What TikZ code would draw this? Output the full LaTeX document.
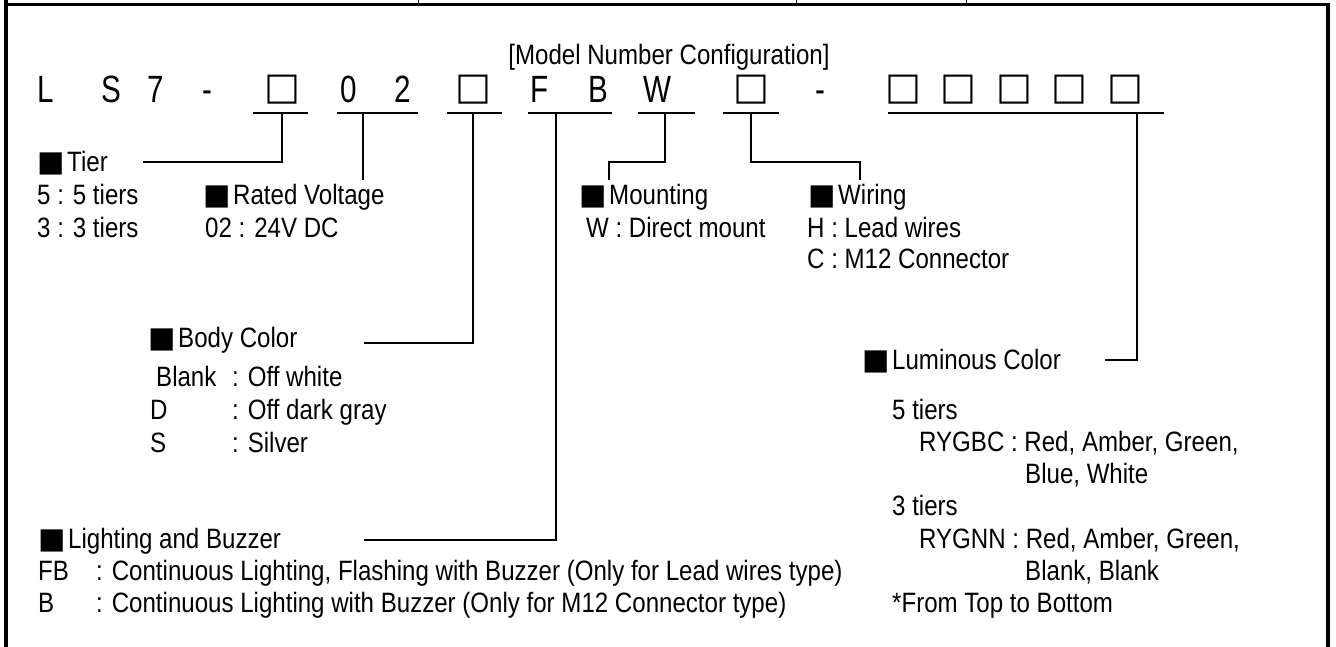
\documentclass[tikz,border=0pt]{standalone}
\usepackage{fontspec}
\setmainfont{Liberation Sans}[FakeStretch=0.86]
\newfontfamily\bigfont{Liberation Sans}[FakeStretch=0.78]
\newfontfamily\symfont{DejaVu Sans}
\begin{document}
\begin{tikzpicture}[x=1pt,y=-1pt,
  txt/.style={anchor=base west,inner sep=0pt,font=\fontsize{28}{32}\selectfont},
  ttl/.style={anchor=base,inner sep=0pt,font=\fontsize{28}{32}\selectfont},
  big/.style={anchor=base,inner sep=0pt,font=\bigfont\fontsize{38}{44}\selectfont},
  bx/.style={anchor=center,inner sep=0pt,font=\symfont\fontsize{38}{42}\selectfont},
  sq/.style={anchor=base east,inner sep=0pt,font=\symfont\fontsize{29}{32}\selectfont},
  ln/.style={line width=2.5pt,line join=miter},
  frm/.style={line width=4pt}]
\useasboundingbox (0,0) rectangle (1336,647);
% frame
\draw[line width=3pt] (3.5,4.5) -- (1330,4.5);
\draw[frm] (5.5,0) -- (5.5,647);
\draw[frm] (1328,3) -- (1328,647);
\foreach \tx in {418,796,966} \draw[line width=1pt] (\tx,0) -- (\tx,4);
% title
\node[ttl] (title) at (669,65) {[Model Number Configuration]};
% model row
\node[big] (cL) at (46,103) {L};
\node[big] (cS) at (111,103) {S};
\node[big] (c7) at (156,103) {7};
\node[big] (cd1) at (207,103) {-};
\node[bx] (b1) at (282,90) {□};
\node[big] (c0) at (349,103) {0};
\node[big] (c2) at (403,103) {2};
\node[bx] (b2) at (473,90) {□};
\node[big] (cF) at (540,103) {F};
\node[big] (cB) at (598,103) {B};
\node[big] (cW) at (657,103) {W};
\node[bx] (b3) at (751,90) {□};
\node[big] (cd2) at (820,103) {-};
\node[bx] (b4) at (903,90) {□};
\node[bx] (b5) at (958.5,90) {□};
\node[bx] (b6) at (1014,90) {□};
\node[bx] (b7) at (1069.5,90) {□};
\node[bx] (b8) at (1125,90) {□};
% underlines
\draw[ln] (253,113) -- (308,113);
\draw[ln] (337,113) -- (418,113);
\draw[ln] (447,113) -- (502,113);
\draw[ln] (528,113) -- (612,113);
\draw[ln] (638,113) -- (695,113);
\draw[ln] (723,113) -- (779,113);
\draw[ln] (888,113) -- (1164,113);
% tap points
\coordinate (uT) at (282,113);
\coordinate (uV) at (363,113);
\coordinate (uC) at (473,113);
\coordinate (uL) at (556,113);
\coordinate (uM) at (665,113);
\coordinate (uW) at (751,113);
\coordinate (uX) at (1137,113);
% Tier
\node[txt] (tT) at (67,172) {Tier};
\node[sq] (sqT) at ([xshift=-2pt]tT.base west) {■};
\node[txt] (t5) at (37,205) {5 : 5 tiers};
\node[txt] (t3) at (37,237) {3 : 3 tiers};
\coordinate (eT) at (143,162);
\draw[ln] (eT) -| (uT);
% Rated voltage
\node[txt] (tV) at (233,205) {Rated Voltage};
\node[sq] (sqV) at ([xshift=-2pt]tV.base west) {■};
\node[txt] (tV2) at (205,237) {02 : 24V DC};
\coordinate (eV) at (363,180);
\draw[ln] (uV) -- (eV);
% Mounting
\node[txt] (tM) at (609,205) {Mounting};
\node[sq] (sqM) at ([xshift=-2pt]tM.base west) {■};
\node[txt] (tM2) at (586,237) {W : Direct mount};
\coordinate (eM) at (609,180);
\draw[ln] (uM) -- ++(0,49) -| (eM);
% Wiring
\node[txt] (tW) at (838,205) {Wiring};
\node[sq] (sqW) at ([xshift=-2pt]tW.base west) {■};
\node[txt] (tW2) at (807,237) {H : Lead wires};
\node[txt] (tW3) at (807,269) {C : M12 Connector};
\coordinate (eW) at (860,180);
\draw[ln] (uW) -- ++(0,49) -| (eW);
% Body color
\node[txt] (tC) at (178,347) {Body Color};
\node[sq] (sqC) at ([xshift=-2pt]tC.base west) {■};
\node[txt] (tC1) at (156,386) {Blank};
\node[txt] (tC1v) at (232,386) {: Off white};
\node[txt] (tC2) at (150,419) {D};
\node[txt] (tC2v) at (232,419) {: Off dark gray};
\node[txt] (tC3) at (150,452) {S};
\node[txt] (tC3v) at (232,452) {: Silver};
\coordinate (eC) at (364,343);
\draw[ln] (uC) |- (eC);
% Lighting and buzzer
\node[txt] (tL) at (68,548) {Lighting and Buzzer};
\node[sq] (sqL) at ([xshift=-2pt]tL.base west) {■};
\node[txt] (tL1) at (38,580) {FB};
\node[txt] (tL1v) at (96,580) {: Continuous Lighting, Flashing with Buzzer (Only for Lead wires type)};
\node[txt] (tL2) at (38,612) {B};
\node[txt] (tL2v) at (96,612) {: Continuous Lighting with Buzzer (Only for M12 Connector type)};
\coordinate (eL) at (364,540);
\draw[ln] (uL) |- (eL);
% Luminous color
\node[txt] (tX) at (892,369) {Luminous Color};
\node[sq] (sqX) at ([xshift=-2pt]tX.base west) {■};
\node[txt] (tX1) at (892,419) {5 tiers};
\node[txt] (tX2) at (919,451) {RYGBC : Red, Amber, Green,};
\node[txt] (tX3) at (1025,483) {Blue, White};
\node[txt] (tX4) at (892,515) {3 tiers};
\node[txt] (tX5) at (919,548) {RYGNN : Red, Amber, Green,};
\node[txt] (tX6) at (1025,580) {Blank, Blank};
\node[txt] (tX7) at (892,612) {*From Top to Bottom};
\coordinate (eX) at (1105,360);
\draw[ln] (uX) |- (eX);
\end{tikzpicture}
\end{document}
